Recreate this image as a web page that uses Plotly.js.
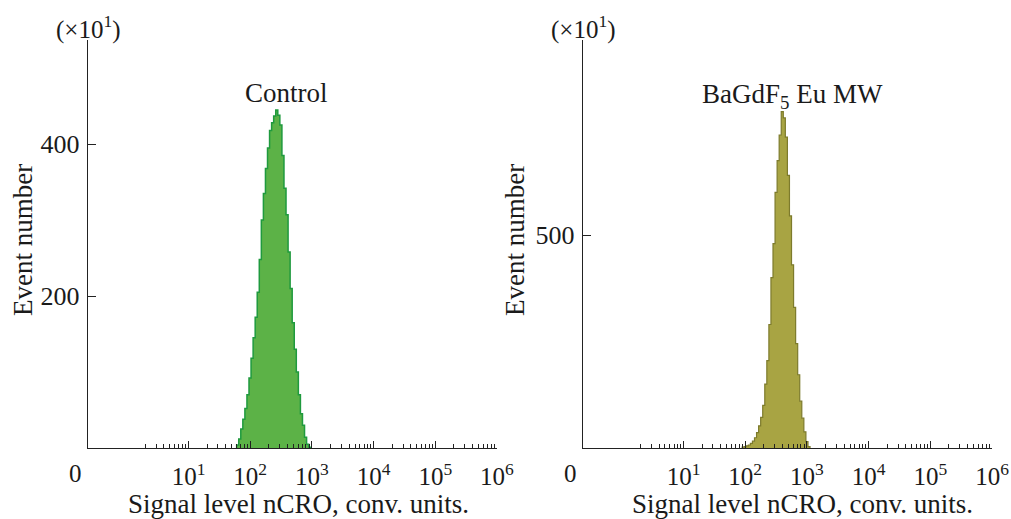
<!DOCTYPE html>
<html>
<head>
<meta charset="utf-8">
<script src="https://cdn.plot.ly/plotly-3.0.1.min.js"></script>
<style>html,body{margin:0;padding:0;background:#fff;}#chart{width:1011px;height:519px;}</style>
</head>
<body>
<div id="chart"></div>
<script>
// Control histogram: bin edges (signal level, conv. units) and event counts (x10^1)
const controlEdges = [60.26, 65.07, 70.26, 75.86, 81.91, 88.45, 95.50, 103.12, 111.35, 120.23,
  129.82, 140.18, 151.36, 163.43, 176.47, 190.55, 205.75, 222.16, 239.88, 259.01,
  279.67, 301.99, 326.08, 352.09, 380.19, 410.52, 443.26, 478.63, 516.80, 558.03,
  602.56, 650.63, 702.54, 758.58, 819.10, 884.44, 954.99];
const controlCounts = [4, 12, 25, 38, 52, 70, 92, 118, 145, 172,
  205, 248, 300, 335, 368, 395, 418, 428, 437, 445,
  438, 425, 385, 342, 307, 258, 210, 165, 130, 100,
  70, 45, 30, 14, 5, 1];

// BaGdF5 Eu MW histogram
const sampleEdges = [89.13, 96.24, 103.91, 112.20, 121.15, 130.82, 141.25, 152.52, 164.69, 177.83,
  192.02, 207.34, 223.87, 241.73, 261.02, 281.84, 304.33, 328.61, 354.81, 383.12,
  413.69, 446.68, 482.32, 520.80, 562.34, 607.20, 655.64, 707.95, 764.42, 825.41,
  891.25, 962.36, 1039.1, 1122.0];
const sampleCounts = [2, 3, 5, 7, 11, 16, 24, 36, 52, 72,
  100, 150, 205, 290, 400, 480, 600, 675, 735, 790,
  775, 730, 640, 545, 430, 330, 245, 172, 110, 70,
  38, 15, 3];

const xTickVals = [10, 100, 1000, 10000, 100000, 1000000];
const xTickText = ['10<sup>1</sup>', '10<sup>2</sup>', '10<sup>3</sup>', '10<sup>4</sup>', '10<sup>5</sup>', '10<sup>6</sup>'];
const leftYTicks = [200, 400];
const rightYTicks = [500];
const panelTitles = ['Control', 'BaGdF<sub>5</sub> Eu MW'];

function stepXY(edges, counts) {
  const xs = [edges[0]], ys = [0];
  for (let i = 0; i < counts.length; i++) { xs.push(edges[i]); ys.push(counts[i]); }
  xs.push(edges[edges.length - 1]); ys.push(0);
  return {xs, ys};
}

const minorVals = [];
for (let d = 0; d < 6; d++) for (let m = 2; m <= 9; m++) minorVals.push(m * Math.pow(10, d));

const c = stepXY(controlEdges, controlCounts);
const s = stepXY(sampleEdges, sampleCounts);

const traces = [
  {x: c.xs, y: c.ys, xaxis: 'x', yaxis: 'y', type: 'scatter', mode: 'lines',
   line: {shape: 'hv', color: '#1f9a3e', width: 1.5}, fill: 'tozeroy', fillcolor: '#5cb247',
   hoverinfo: 'skip', showlegend: false},
  {x: s.xs, y: s.ys, xaxis: 'x2', yaxis: 'y2', type: 'scatter', mode: 'lines',
   line: {shape: 'hv', color: '#7d7b2c', width: 1.2}, fill: 'tozeroy', fillcolor: '#a8a443',
   hoverinfo: 'skip', showlegend: false}
];

const F = 'Liberation Serif, Times New Roman, serif';
const TXT = '#1a1a1a';
function xAxis(domain, anchor) {
  return {domain: domain, anchor: anchor, type: 'log', range: [-0.63, 6],
    showline: true, linecolor: '#222', linewidth: 1.2, showgrid: false, zeroline: false,
    tickmode: 'array', tickvals: xTickVals, ticktext: xTickText,
    ticks: 'inside', ticklen: 7, tickwidth: 1, tickcolor: '#222', ticklabelstandoff: 6,
    minor: {tickmode: 'array', tickvals: minorVals, ticks: 'inside', ticklen: 4, tickwidth: 1, tickcolor: '#222'},
    tickfont: {family: F, size: 25, color: TXT}, fixedrange: true};
}
function yAxis(domain, anchor, range, ticks) {
  return {domain: domain, anchor: anchor, range: range,
    showline: true, linecolor: '#222', linewidth: 1.2, showgrid: false, zeroline: false,
    tickmode: 'array', tickvals: ticks, ticks: 'inside', ticklen: 8, tickwidth: 1, tickcolor: '#222',
    ticklabelstandoff: 2,
    tickfont: {family: F, size: 26, color: TXT}, fixedrange: true};
}

function ann(x, y, text, size, extra) {
  return Object.assign({xref: 'paper', yref: 'paper', x: x / 1011, y: 1 - y / 519, text: text,
    showarrow: false, xanchor: 'center', yanchor: 'middle', font: {family: F, size: size, color: TXT}}, extra || {});
}

const yDom = [0.1368, 0.9229];
const layout = {
  width: 1011, height: 519, margin: {l: 0, r: 0, t: 0, b: 0},
  paper_bgcolor: '#fff', plot_bgcolor: '#fff',
  font: {family: F, size: 25, color: TXT},
  xaxis: xAxis([0.08704, 0.49159], 'y'),
  yaxis: yAxis(yDom, 'x', [0, 537], leftYTicks),
  xaxis2: xAxis([0.57666, 0.98121], 'y2'),
  yaxis2: yAxis(yDom, 'x2', [0, 958], rightYTicks),
  annotations: [
    ann(88, 27, '(×10<sup>1</sup>)', 25),
    ann(583, 27, '(×10<sup>1</sup>)', 25),
    ann(286, 93, panelTitles[0], 27),
    ann(792, 96, panelTitles[1], 27),
    ann(23, 240, 'Event number', 27, {textangle: -90}),
    ann(515, 240, 'Event number', 27, {textangle: -90}),
    ann(298, 504, 'Signal level nCRO, conv. units.', 27),
    ann(802, 504, 'Signal level nCRO, conv. units.', 27),
    ann(75, 473, '0', 25),
    ann(570, 473, '0', 25)
  ]
};

Plotly.newPlot('chart', traces, layout, {displayModeBar: false, staticPlot: true});
</script>
</body>
</html>
